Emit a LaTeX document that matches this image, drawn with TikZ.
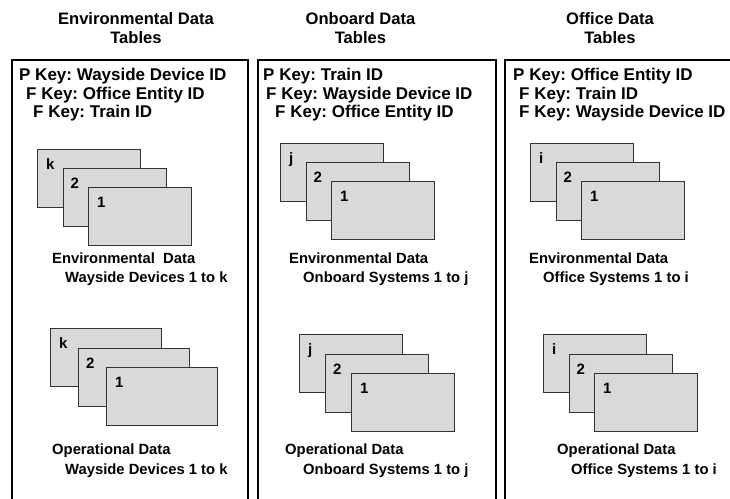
\documentclass[tikz,border=0pt]{standalone}
\usepackage{fontspec}
\setmainfont{Liberation Sans}
\frenchspacing
\usetikzlibrary{calc}
\tikzset{
  bigbox/.style={draw=black, line width=2pt, fill=none, inner sep=0pt, anchor=north west},
  card/.style={draw=black!80, line width=0.9pt, fill=black!15, inner sep=0pt, minimum height=58pt, anchor=north west},
  ttl/.style={font=\fontsize{16.6pt}{19pt}\selectfont\bfseries, inner sep=0pt, align=center, anchor=base},
  keytxt/.style={font=\fontsize{17pt}{20pt}\selectfont\bfseries, inner sep=0pt, anchor=base west},
  lbl/.style={font=\fontsize{14.8pt}{18pt}\selectfont\bfseries, inner sep=0pt, anchor=base west},
  num/.style={font=\fontsize{15pt}{18pt}\selectfont\bfseries, inner sep=0pt, anchor=base west}
}
% #1 name, #2 x, #3 y, #4 width, #5 dx, #6 dy, #7 top letter
\newcommand\cardstack[7]{%
  \node[card, minimum width=#4pt] (#1a) at (#2,#3) {};
  \node[card, minimum width=#4pt] (#1b) at ($(#2,#3)+(#5,#6)$) {};
  \node[card, minimum width=#4pt] (#1c) at ($(#2,#3)+(2*#5,2*#6)$) {};
  \node[num] (#1la) at ($(#1a.north west)+(9,20)$) {#7};
  \node[num] (#1lb) at ($(#1b.north west)+(8,20.5)$) {2};
  \node[num] (#1lc) at ($(#1c.north west)+(9,20)$) {1};
}
\begin{document}
\begin{tikzpicture}[x=1pt,y=-1pt]
\useasboundingbox (0,0) rectangle (730,498);
\clip (0,0) rectangle (730,498);
% titles
\node[ttl] (t1) at (136,24) {Environmental Data};
\node[ttl] (t1b) at (136,43) {Tables};
\node[ttl] (t2) at (360.5,24) {Onboard Data};
\node[ttl] (t2b) at (360.5,43) {Tables};
\node[ttl] (t3) at (610,24) {Office Data};
\node[ttl] (t3b) at (610,43) {Tables};
% big boxes
\node[bigbox, minimum width=236pt, minimum height=470pt] (env) at (11,59) {};
\node[bigbox, minimum width=238pt, minimum height=470pt] (onb) at (257,59) {};
\node[bigbox, minimum width=240pt, minimum height=470pt] (off) at (504,59) {};
% keys
\node[keytxt] (k11) at (19,80) {P Key: Wayside Device ID};
\node[keytxt] (k12) at (26,99) {F Key: Office Entity ID};
\node[keytxt] (k13) at (33,117.5) {F Key: Train ID};
\node[keytxt] (k21) at (263,80) {P Key: Train ID};
\node[keytxt] (k22) at (266,99) {F Key: Wayside Device ID};
\node[keytxt] (k23) at (275,117.5) {F Key: Office Entity ID};
\node[keytxt] (k31) at (513,80) {P Key: Office Entity ID};
\node[keytxt] (k32) at (519,99) {F Key: Train ID};
\node[keytxt] (k33) at (519,117.5) {F Key: Wayside Device ID};
% card stacks
\cardstack{eu}{37}{149}{103}{25.5}{19}{k}
\cardstack{el}{50}{328}{111}{28}{19.5}{k}
\cardstack{ou}{280}{143}{103}{25.5}{19}{j}
\cardstack{ol}{299}{334}{103}{26}{19.5}{j}
\cardstack{fu}{530}{143}{103}{25.5}{19}{i}
\cardstack{fl}{543}{334}{103}{25.5}{19.5}{i}
% labels
\node[lbl] (l11) at (52,263) {Environmental\ \ Data};
\node[lbl] (l12) at (65,282) {Wayside Devices 1 to k};
\node[lbl] (l13) at (52,454) {Operational Data};
\node[lbl] (l14) at (65,474) {Wayside Devices 1 to k};
\node[lbl] (l21) at (289,263) {Environmental Data};
\node[lbl] (l22) at (303,282) {Onboard Systems 1 to j};
\node[lbl] (l23) at (285,454) {Operational Data};
\node[lbl] (l24) at (303,474) {Onboard Systems 1 to j};
\node[lbl] (l31) at (529,263) {Environmental Data};
\node[lbl] (l32) at (543,282) {Office Systems 1 to i};
\node[lbl] (l33) at (557,454) {Operational Data};
\node[lbl] (l34) at (571,474) {Office Systems 1 to i};
\end{tikzpicture}
\end{document}
